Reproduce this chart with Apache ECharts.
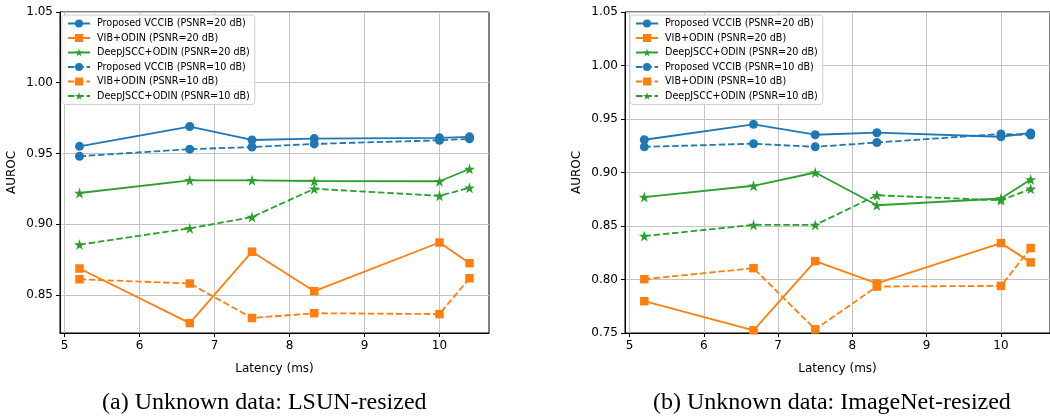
<!DOCTYPE html>
<html>
<head>
<meta charset="utf-8">
<script src="https://cdn.jsdelivr.net/npm/echarts@6/dist/echarts.min.js"></script>
<style>
html,body{margin:0;padding:0;background:#fff;}
#c{width:1050px;height:419px;}
</style>
</head>
<body>
<div id="c"></div>
<script>
const latency = [5.2, 6.67, 7.5, 8.33, 10, 10.4];
const xTicks = [5, 6, 7, 8, 9, 10];
const yTicksA = [0.85, 0.90, 0.95, 1.00, 1.05];
const yTicksB = [0.75, 0.80, 0.85, 0.90, 0.95, 1.00, 1.05];
const seriesNames = [
  'Proposed VCCIB (PSNR=20 dB)', 'VIB+ODIN (PSNR=20 dB)', 'DeepJSCC+ODIN (PSNR=20 dB)',
  'Proposed VCCIB (PSNR=10 dB)', 'VIB+ODIN (PSNR=10 dB)', 'DeepJSCC+ODIN (PSNR=10 dB)'
];
const captions = ['(a) Unknown data: LSUN-resized', '(b) Unknown data: ImageNet-resized'];
const xName = 'Latency (ms)';
const yName = 'AUROC';

// (a) LSUN-resized
const lsunVccib20 = [0.955, 0.969, 0.9595, 0.9605, 0.961, 0.9617];
const lsunVib20 = [0.8686, 0.830, 0.8805, 0.8526, 0.887, 0.8724];
const lsunDjscc20 = [0.922, 0.931, 0.931, 0.9305, 0.9303, 0.939];
const lsunVccib10 = [0.948, 0.953, 0.9545, 0.9567, 0.9593, 0.9603];
const lsunVib10 = [0.861, 0.858, 0.8336, 0.837, 0.8364, 0.8617];
const lsunDjscc10 = [0.8855, 0.897, 0.905, 0.925, 0.920, 0.9257];

// (b) ImageNet-resized
const imnVccib20 = [0.9306, 0.945, 0.9353, 0.9372, 0.9334, 0.937];
const imnVib20 = [0.7797, 0.7525, 0.8172, 0.7963, 0.834, 0.816];
const imnDjscc20 = [0.877, 0.8876, 0.900, 0.8694, 0.8757, 0.8934];
const imnVccib10 = [0.924, 0.9269, 0.924, 0.928, 0.936, 0.935];
const imnVib10 = [0.8003, 0.8106, 0.7534, 0.7934, 0.794, 0.8294];
const imnDjscc10 = [0.8406, 0.851, 0.851, 0.8787, 0.874, 0.8847];

const C_BLUE = '#1f77b4', C_ORANGE = '#ff7f0e', C_GREEN = '#2ca02c';
const STAR = 'path://M50,0L61.17,34.63L97.55,34.55L68.07,55.87L79.39,90.45L50,69L20.61,90.45L31.93,55.87L2.45,34.55L38.83,34.63Z';
const FONT = 'DejaVu Sans';

const styles = [
  {color: C_BLUE, symbol: 'circle', size: 9, dash: 'solid'},
  {color: C_ORANGE, symbol: 'rect', size: 8.5, dash: 'solid'},
  {color: C_GREEN, symbol: STAR, size: 11, dash: 'solid'},
  {color: C_BLUE, symbol: 'circle', size: 9, dash: [6.5, 2.8]},
  {color: C_ORANGE, symbol: 'rect', size: 8.5, dash: [6.5, 2.8]},
  {color: C_GREEN, symbol: STAR, size: 11, dash: [6.5, 2.8]}
];

function mk(idx, vals, gi) {
  const s = styles[idx];
  return {
    type: 'line', name: seriesNames[idx], xAxisIndex: gi, yAxisIndex: gi,
    data: latency.map((x, i) => [x, vals[i]]),
    symbol: s.symbol, symbolSize: s.size, showSymbol: true,
    lineStyle: {color: s.color, width: 1.8, type: s.dash},
    itemStyle: {color: s.color, borderWidth: 0},
    animation: false, z: 3 + idx, emphasis: {disabled: true}
  };
}

const A = [lsunVccib20, lsunVib20, lsunDjscc20, lsunVccib10, lsunVib10, lsunDjscc10];
const B = [imnVccib20, imnVib20, imnDjscc20, imnVccib10, imnVib10, imnDjscc10];
const series = [];
A.forEach((v, i) => series.push(mk(i, v, 0)));
B.forEach((v, i) => series.push(mk(i, v, 1)));

function xAxis(gi) {
  return {
    type: 'value', gridIndex: gi, min: 4.94, max: 10.66,
    name: xName, nameLocation: 'middle', nameGap: 30,
    nameTextStyle: {fontFamily: FONT, fontSize: 12, color: '#000'},
    axisLine: {show: true, lineStyle: {color: '#000', width: 1}},
    axisTick: {show: true, length: 4, lineStyle: {color: '#000'}, customValues: xTicks},
    axisLabel: {fontFamily: FONT, fontSize: 12, color: '#000', margin: 7, customValues: xTicks},
    splitLine: {show: true, lineStyle: {color: '#c4c4c4', width: 1}}
  };
}
function yAxis(gi, mn, ticks) {
  return {
    type: 'value', gridIndex: gi, min: mn, max: 1.05,
    name: yName, nameLocation: 'middle', nameGap: 42,
    nameTextStyle: {fontFamily: FONT, fontSize: 12, color: '#000'},
    axisLine: {show: true, lineStyle: {color: '#000', width: 1}},
    axisTick: {show: true, length: 4, lineStyle: {color: '#000'}, customValues: ticks},
    axisLabel: {fontFamily: FONT, fontSize: 12, color: '#000', margin: 7, customValues: ticks,
      formatter: v => v.toFixed(2)},
    splitLine: {show: true, lineStyle: {color: '#c4c4c4', width: 1}}
  };
}
function legend(left) {
  return {
    data: seriesNames, orient: 'vertical', left: left, top: 15,
    itemWidth: 22, itemHeight: 10, itemGap: 3.5,
    padding: [3, 5, 3, 5],
    backgroundColor: 'rgba(255,255,255,0.85)', borderColor: '#d0d0d0', borderWidth: 1, borderRadius: 3,
    textStyle: {fontFamily: FONT, fontSize: 9.6, color: '#000', lineHeight: 11, padding: [0, 0, 0, 2]},
    selectedMode: false
  };
}

const chart = echarts.init(document.getElementById('c'), null, {renderer: 'canvas'});
chart.setOption({
  animation: false,
  backgroundColor: '#fff',
  grid: [
    {left: 60, top: 12, width: 429, height: 321, show: true, borderColor: '#000', borderWidth: 1, containLabel: false},
    {left: 625, top: 12, width: 429, height: 321, show: true, borderColor: '#000', borderWidth: 1, containLabel: false}
  ],
  xAxis: [xAxis(0), xAxis(1)],
  yAxis: [yAxis(0, 0.823, yTicksA), yAxis(1, 0.75, yTicksB)],
  legend: [legend(62), legend(630)],
  graphic: [
    {type: 'text', left: 267 - 165, top: 391, style: {text: captions[0], font: '24px "Liberation Serif"', fill: '#000'}},
    {type: 'text', left: 833 - 180, top: 391, style: {text: captions[1], font: '24px "Liberation Serif"', fill: '#000'}}
  ],
  series: series
});
</script>
</body>
</html>
